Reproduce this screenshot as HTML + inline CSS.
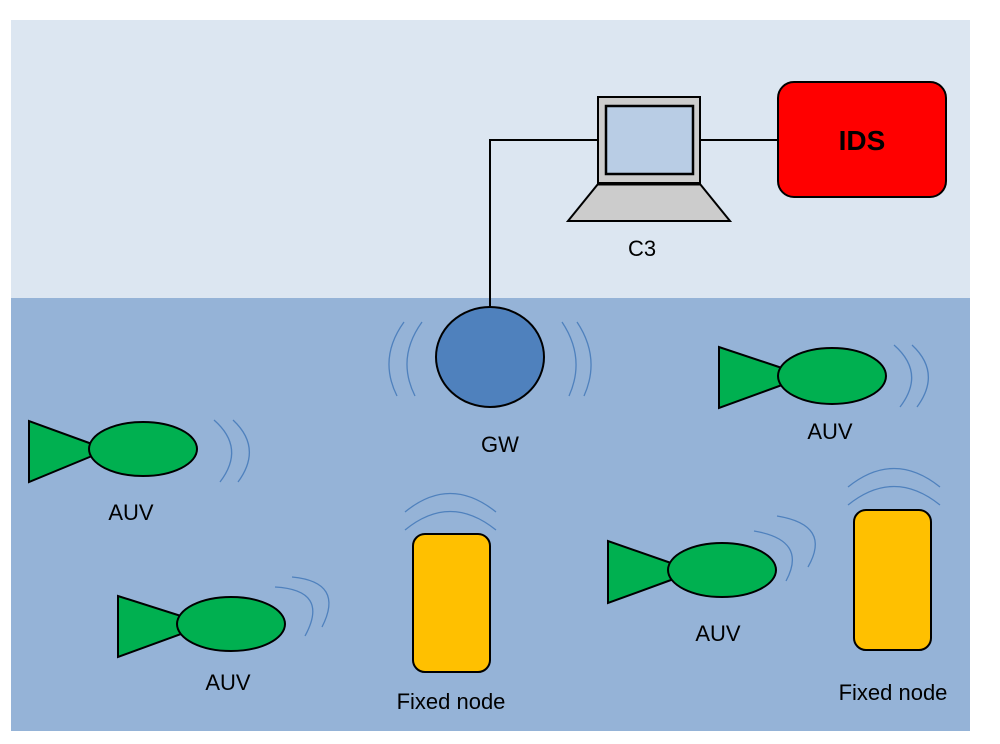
<!DOCTYPE html>
<html><head><meta charset="utf-8"><style>
html,body{margin:0;padding:0;background:#fff;}
svg{display:block;}
text{font-family:"Liberation Sans",Arial,sans-serif;fill:#000;}
</style></head><body>
<svg width="1000" height="744" viewBox="0 0 1000 744" xmlns="http://www.w3.org/2000/svg">
<rect x="0" y="0" width="1000" height="744" fill="#fff"/>
<rect x="11" y="20" width="959" height="278" fill="#dce6f1"/>
<rect x="11" y="298" width="959" height="433" fill="#95b3d7"/>

<polyline points="598,140 490,140 490,307" fill="none" stroke="#000" stroke-width="2"/>
<line x1="700" y1="140" x2="778" y2="140" stroke="#000" stroke-width="2"/>

<rect x="598" y="97" width="102" height="86" fill="#ccc" stroke="#000" stroke-width="2"/>
<rect x="606" y="106" width="87" height="68" fill="#b9cde5" stroke="#000" stroke-width="2.5"/>
<polygon points="598,184 700,184 730,221 568,221" fill="#ccc" stroke="#000" stroke-width="2"/>
<line x1="598" y1="184" x2="700" y2="184" stroke="#000" stroke-width="3"/>
<text x="642" y="256" font-size="22" text-anchor="middle">C3</text>

<rect x="778" y="82" width="168" height="115" rx="16" fill="#ff0000" stroke="#000" stroke-width="2"/>
<text x="862" y="150" font-size="28" font-weight="bold" text-anchor="middle">IDS</text>

<g fill="none" stroke="#4f81bd" stroke-width="1.3">
<path d="M404,322 Q378,358 397,396"/>
<path d="M422,322 Q396,358 415,396"/>
<path d="M562,322 Q586,358 569,396"/>
<path d="M577,322 Q601,358 584,396"/>
</g>
<ellipse cx="490" cy="357" rx="54" ry="50" fill="#4f81bd" stroke="#000" stroke-width="2"/>
<text x="500" y="452" font-size="22" text-anchor="middle">GW</text>

<g fill="none" stroke="#4f81bd" stroke-width="1.3">
<path d="M214,420 Q246,448 220,482"/>
<path d="M233,420 Q263,448 238,482"/>
<path d="M275,587 Q330,590 305,636"/>
<path d="M292,577 Q345,582 322,627"/>
<path d="M894,345 Q926,373 900,407"/>
<path d="M912,345 Q942,373 917,407"/>
<path d="M754,531 Q808,540 786,581"/>
<path d="M777,516 Q832,525 808,567"/>
<path d="M405,530 Q450,493 496,530"/>
<path d="M405,512 Q450,475 496,512"/>
<path d="M848,505 Q894,468 940,505"/>
<path d="M848,487 Q894,450 940,487"/>
</g>

<g stroke="#000" stroke-width="2" fill="#00b050">
<polygon points="29,421 29,482 92,456 92,444"/>
<ellipse cx="143" cy="449" rx="54" ry="27"/>
<polygon points="118,596 118,657 181,634 181,616"/>
<ellipse cx="231" cy="624" rx="54" ry="27"/>
<polygon points="719,347 719,408 782,385 782,368"/>
<ellipse cx="832" cy="376" rx="54" ry="28"/>
<polygon points="608,541 608,603 671,580 671,563"/>
<ellipse cx="722" cy="570" rx="54" ry="27"/>
</g>
<text x="131" y="520" font-size="22" text-anchor="middle">AUV</text>
<text x="228" y="690" font-size="22" text-anchor="middle">AUV</text>
<text x="830" y="439" font-size="22" text-anchor="middle">AUV</text>
<text x="718" y="641" font-size="22" text-anchor="middle">AUV</text>

<rect x="413" y="534" width="77" height="138" rx="12" fill="#ffc000" stroke="#000" stroke-width="2"/>
<rect x="854" y="510" width="77" height="140" rx="12" fill="#ffc000" stroke="#000" stroke-width="2"/>
<text x="451" y="709" font-size="22" text-anchor="middle">Fixed node</text>
<text x="893" y="700" font-size="22" text-anchor="middle">Fixed node</text>
</svg>
</body></html>
